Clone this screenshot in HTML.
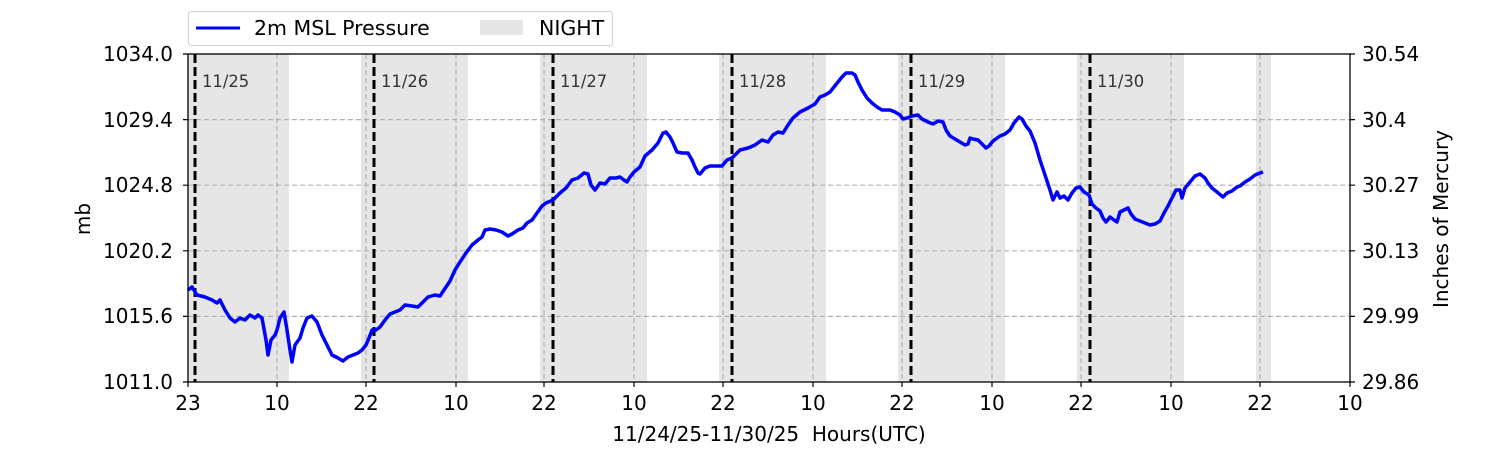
<!DOCTYPE html><html><head><style>body{margin:0;background:#fff}</style></head><body>
<svg width="1500" height="450" xmlns="http://www.w3.org/2000/svg" font-family="'DejaVu Sans','Liberation Sans',sans-serif">
<g fill="#e6e6e6">
<rect x="188" y="54" width="101" height="328"/><rect x="361" y="54" width="107" height="328"/><rect x="540" y="54" width="107" height="328"/><rect x="719" y="54" width="107" height="328"/><rect x="898" y="54" width="107" height="328"/><rect x="1077" y="54" width="107" height="328"/><rect x="1256" y="54" width="15" height="328"/>
</g>
<g stroke="#b0b0b0" stroke-width="1.2" stroke-dasharray="5,3" fill="none">
<path d="M188 119.6H1350M188 185.2H1350M188 250.8H1350M188 316.4H1350"/>
<path d="M277 54V382M366 54V382M456 54V382M544 54V382M634 54V382M723 54V382M813 54V382M902 54V382M992 54V382M1081 54V382M1171 54V382M1260 54V382"/>
</g>
<g stroke="#000" stroke-width="3" stroke-dasharray="9,4">
<path d="M195 54V382M374 54V382M553 54V382M732 54V382M911 54V382M1090 54V382"/>
</g>
<g font-size="16.4" fill="#333"><text x="202" y="87">11/25</text><text x="381" y="87">11/26</text><text x="560" y="87">11/27</text><text x="739" y="87">11/28</text><text x="918" y="87">11/29</text><text x="1097" y="87">11/30</text></g>
<polyline fill="none" stroke="#0000ff" stroke-width="3.5" stroke-linejoin="round" points="188,290 192,287 197,295 205,297 212,300 217,303 220,300 225,310 230,318 235,322 240,318 245,320 250,315 255,318 258,315 262,318 266,340 268,355 271,340 275,335 277,330 280,318 284,312 287,330 290,350 292,362 295,345 300,338 303,328 307,318 312,316 317,322 322,335 327,345 332,355 338,358 343,361 348,357 353,355 358,353 362,350 366,345 369,338 372,330 376,330 380,327 385,320 390,314 395,312 400,310 405,305 412,306 418,307 422,303 428,297 435,295 440,296 444,290 450,281 455,270 460,262 466,253 472,245 478,240 482,237 485,230 490,229 496,230 502,232 508,236 512,234 518,230 523,228 527,223 532,220 537,213 542,206 546,203 553,200 560,193 566,188 572,180 578,178 584,173 588,174 591,185 595,190 600,183 605,184 610,178 616,178 620,177 624,180 627,182 630,177 634,172 640,167 645,156 652,150 658,143 663,133 666,132 670,137 673,143 677,152 682,153 688,153 692,160 695,167 698,173 700,174 705,168 710,166 716,166 722,166 727,160 732,158 740,150 748,148 755,145 762,140 768,142 773,135 778,132 783,133 788,125 793,118 800,112 808,108 815,104 820,97 825,95 830,92 834,87 838,82 842,77 846,73 852,73 855,75 858,82 862,90 867,98 872,103 877,107 882,110 890,110 895,112 900,115 903,119 907,118 912,116 918,115 922,119 928,122 933,124 938,121 943,122 946,130 950,136 955,139 960,142 965,145 968,144 970,138 973,139 978,140 983,145 986,148 989,146 993,141 1000,136 1005,134 1010,130 1014,123 1019,117 1022,119 1026,126 1030,131 1035,143 1040,160 1045,175 1050,190 1053,200 1057,192 1060,198 1064,196 1068,200 1072,193 1076,188 1080,187 1084,192 1089,195 1092,204 1096,208 1100,211 1103,218 1106,222 1110,217 1114,220 1117,222 1120,212 1124,210 1128,208 1131,214 1135,219 1140,221 1145,223 1150,225 1155,224 1160,221 1164,213 1168,206 1172,198 1176,190 1180,190 1182,198 1185,188 1190,182 1195,176 1200,174 1205,178 1208,183 1212,188 1217,192 1223,197 1227,193 1232,191 1237,187 1240,186 1245,182 1250,179 1255,175 1260,173 1263,172"/>
<rect x="188" y="54" width="1162" height="328" fill="none" stroke="#000" stroke-width="1.3"/>
<g stroke="#000" stroke-width="1.2"><path d="M183 54H188M183 119.6H188M183 185.2H188M183 250.8H188M183 316.4H188M183 382H188M1350 54H1355M1350 119.6H1355M1350 185.2H1355M1350 250.8H1355M1350 316.4H1355M1350 382H1355"/>
<path d="M188 382V387M277 382V387M366 382V387M456 382V387M544 382V387M634 382V387M723 382V387M813 382V387M902 382V387M992 382V387M1081 382V387M1171 382V387M1260 382V387M1350 382V387"/></g>
<g font-size="20" fill="#000" text-anchor="end"><text x="173" y="61">1034.0</text><text x="173" y="127">1029.4</text><text x="173" y="192">1024.8</text><text x="173" y="258">1020.2</text><text x="173" y="323">1015.6</text><text x="173" y="389">1011.0</text></g>
<g font-size="20" fill="#000"><text x="1362" y="61">30.54</text><text x="1362" y="127">30.4</text><text x="1362" y="192">30.27</text><text x="1362" y="258">30.13</text><text x="1362" y="323">29.99</text><text x="1362" y="389">29.86</text></g>
<g font-size="20" fill="#000" text-anchor="middle"><text x="188" y="410">23</text><text x="277" y="410">10</text><text x="366" y="410">22</text><text x="456" y="410">10</text><text x="544" y="410">22</text><text x="634" y="410">10</text><text x="723" y="410">22</text><text x="813" y="410">10</text><text x="902" y="410">22</text><text x="992" y="410">10</text><text x="1081" y="410">22</text><text x="1171" y="410">10</text><text x="1260" y="410">22</text><text x="1350" y="410">10</text>
<text x="769" y="441" xml:space="preserve">11/24/25-11/30/25  Hours(UTC)</text>
<text transform="translate(90,219) rotate(-90)">mb</text>
<text transform="translate(1448,219) rotate(-90)">Inches of Mercury</text></g>
<rect x="188.5" y="11.5" width="424" height="34" rx="3" fill="#fff" stroke="#d0d0d0"/>
<line x1="196" y1="28" x2="240" y2="28" stroke="#0000ff" stroke-width="3"/>
<text x="254" y="35" font-size="20.5">2m MSL Pressure</text>
<rect x="480" y="20" width="43" height="15" fill="#e6e6e6"/>
<text x="539" y="35" font-size="20.5">NIGHT</text>
</svg></body></html>
